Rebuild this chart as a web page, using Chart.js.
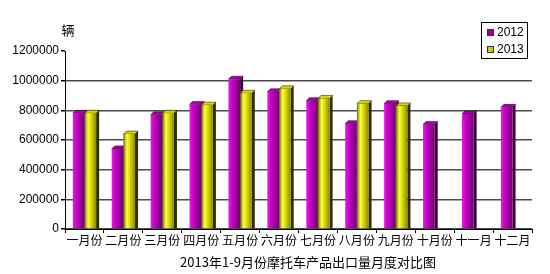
<!DOCTYPE html>
<html>
<head>
<meta charset="utf-8">
<script src="https://cdn.jsdelivr.net/npm/chart.js@4"></script>
<style>
  html, body { margin: 0; padding: 0; background: #fff; }
  #wrap { width: 550px; height: 274px; }
</style>
</head>
<body>
<div id="wrap"><canvas id="exportChart"></canvas></div>
<script>
const months = ['一月份', '二月份', '三月份', '四月份', '五月份', '六月份', '七月份', '八月份', '九月份', '十月份', '十一月', '十二月'];
const exports2012 = [780000, 540000, 770000, 840000, 1010000, 925000, 865000, 710000, 845000, 705000, 775000, 820000];
const exports2013 = [780000, 640000, 780000, 835000, 915000, 945000, 880000, 845000, 830000, null, null, null];
const yTicks = [0, 200000, 400000, 600000, 800000, 1000000, 1200000];

const unitLabel = '辆';
const chartTitle = '2013年1-9月份摩托车产品出口量月度对比图';

const cjkFont = '"Noto Sans CJK SC", sans-serif';
const numFont = '"Liberation Sans", Arial, sans-serif';

const catPct = 0.6;
const depth = 3;

// colours for the fake 3d bars
const looks = [
  { stops: ['#e020e0', '#cc00cc', '#9a009a', '#740074'], side: '#380038', cap: '#a800a8', key: '#990099' },
  { stops: ['#6e6e00', '#ffff40', '#cccc00', '#8a8a00'], side: '#2e2e00', cap: '#d8d800', key: '#cccc00' }
];

// horizontal gradient per bar, placed from the x scale
function barFill(ctx) {
  const look = looks[ctx.datasetIndex];
  const xs = ctx.chart.scales.x;
  if (ctx.type !== 'data' || !xs || !xs.width) return look.key;
  const cat = xs.width / months.length;
  const w = cat * catPct / 2;
  const mid = xs.getPixelForValue(ctx.dataIndex) + (ctx.datasetIndex - 0.5) * w;
  const g = ctx.chart.ctx.createLinearGradient(mid - w / 2, 0, mid + w / 2, 0);
  g.addColorStop(0, look.stops[0]);
  g.addColorStop(0.3, look.stops[1]);
  g.addColorStop(0.65, look.stops[2]);
  g.addColorStop(1, look.stops[3]);
  return g;
}

// side and top faces, drawn before the bars so the next bar covers them
const bar3d = {
  id: 'bar3d',
  beforeDatasetsDraw(chart) {
    const c = chart.ctx;
    chart.data.datasets.forEach((ds, di) => {
      const look = looks[di];
      chart.getDatasetMeta(di).data.forEach((bar, i) => {
        if (ds.data[i] == null) return;
        const l = bar.x - bar.width / 2, r = bar.x + bar.width / 2;
        const t = bar.y, b = bar.base;
        c.save();
        c.fillStyle = look.side;
        c.beginPath();
        c.moveTo(r, t); c.lineTo(r + depth, t - depth); c.lineTo(r + depth, b); c.lineTo(r, b);
        c.closePath(); c.fill();
        c.fillStyle = look.cap;
        c.beginPath();
        c.moveTo(l, t); c.lineTo(l + depth, t - depth); c.lineTo(r + depth, t - depth); c.lineTo(r, t);
        c.closePath(); c.fill();
        c.strokeStyle = 'rgba(0,0,0,0.6)';
        c.lineWidth = 0.8;
        c.stroke();
        c.restore();
      });
    });
  }
};

// unit label, bottom caption and the boxed legend inside the plot
const extras = {
  id: 'extras',
  afterDraw(chart) {
    const c = chart.ctx;
    const area = chart.chartArea;
    c.save();
    c.fillStyle = '#000';
    c.font = '13px ' + cjkFont;
    c.textAlign = 'center';
    c.textBaseline = 'middle';
    c.fillText(unitLabel, area.left + 3, 30);
    c.fillText(chartTitle, 308, 262);

    const bx = area.right - 51, by = 22, bw = 46, bh = 36;
    c.fillStyle = '#fff';
    c.fillRect(bx, by, bw, bh);
    c.strokeStyle = '#000';
    c.lineWidth = 1;
    c.strokeRect(bx + 0.5, by + 0.5, bw, bh);
    c.font = '12px ' + numFont;
    c.textAlign = 'left';
    chart.data.datasets.forEach((ds, di) => {
      const y = by + 10 + di * 17;
      c.fillStyle = looks[di].key;
      c.fillRect(bx + 6, y - 3, 7, 7);
      c.strokeStyle = '#333';
      c.strokeRect(bx + 6.5, y - 2.5, 6, 6);
      c.fillStyle = '#000';
      c.fillText(ds.label, bx + 16, y + 1);
    });
    c.restore();
  }
};

new Chart(document.getElementById('exportChart'), {
  type: 'bar',
  data: {
    labels: months,
    datasets: [
      { label: '2012', data: exports2012, backgroundColor: barFill, borderWidth: 0 },
      { label: '2013', data: exports2013, backgroundColor: barFill, borderWidth: 0 }
    ]
  },
  options: {
    responsive: true,
    maintainAspectRatio: false,
    animation: false,
    layout: { padding: { top: 51, right: 18, left: 0, bottom: 23 } },
    datasets: { bar: { categoryPercentage: catPct, barPercentage: 1 } },
    plugins: {
      legend: { display: false },
      tooltip: { enabled: false },
      title: { display: false }
    },
    scales: {
      x: {
        afterFit(scale) { scale.height = 22; },
        grid: { drawOnChartArea: false, tickLength: 4, tickColor: '#000' },
        border: { color: '#000', width: 1 },
        ticks: { color: '#000', padding: 0, maxRotation: 0, autoSkip: false, font: { family: cjkFont, size: 12 } }
      },
      y: {
        min: 0,
        max: 1200000,
        afterFit(scale) { scale.width = 65; },
        afterBuildTicks(scale) { scale.ticks = yTicks.map(v => ({ value: v })); },
        grid: {
          color: ctx => (ctx.tick && ctx.tick.value === 1200000) ? 'rgba(0,0,0,0)' : '#4a4a4a',
          lineWidth: 1.5,
          tickLength: 4,
          tickColor: '#000'
        },
        border: { color: '#000', width: 1 },
        ticks: {
          color: '#000',
          padding: 2,
          font: { family: numFont, size: 12 },
          callback: v => String(v)
        }
      }
    }
  },
  plugins: [bar3d, extras]
});
</script>
</body>
</html>
